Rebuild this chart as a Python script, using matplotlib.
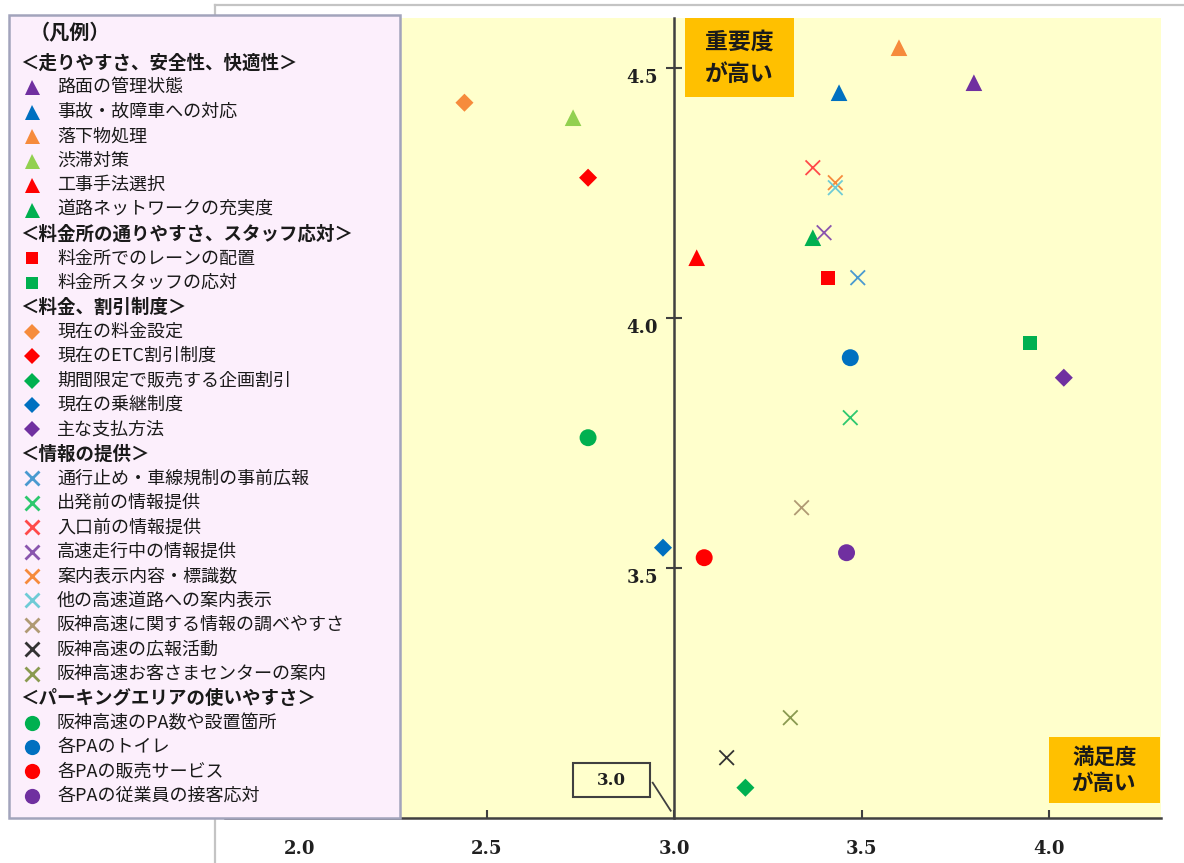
import matplotlib
matplotlib.use("Agg")
import matplotlib.pyplot as plt
from matplotlib.lines import Line2D
from matplotlib.patches import Rectangle
from matplotlib.transforms import ScaledTranslation

# ---------------------------------------------------------------
# Satisfaction (x) / importance (y) scores by survey item
# ---------------------------------------------------------------
group_titles = [
    "＜走りやすさ、安全性、快適性＞",
    "＜料金所の通りやすさ、スタッフ応対＞",
    "＜料金、割引制度＞",
    "＜情報の提供＞",
    "＜パーキングエリアの使いやすさ＞",
]

road_items = ["路面の管理状態", "事故・故障車への対応", "落下物処理",
              "渋滞対策", "工事手法選択", "道路ネットワークの充実度"]
road_satisfaction = [3.80, 3.44, 3.60, 2.73, 3.06, 3.37]
road_importance = [4.47, 4.45, 4.54, 4.40, 4.12, 4.16]

toll_items = ["料金所でのレーンの配置", "料金所スタッフの応対"]
toll_satisfaction = [3.41, 3.95]
toll_importance = [4.08, 3.95]

fare_items = ["現在の料金設定", "現在のETC割引制度", "期間限定で販売する企画割引",
              "現在の乗継制度", "主な支払方法"]
fare_satisfaction = [2.44, 2.77, 3.19, 2.97, 4.04]
fare_importance = [4.43, 4.28, 3.06, 3.54, 3.88]

info_items = ["通行止め・車線規制の事前広報", "出発前の情報提供", "入口前の情報提供",
              "高速走行中の情報提供", "案内表示内容・標識数", "他の高速道路への案内表示",
              "阪神高速に関する情報の調べやすさ", "阪神高速の広報活動",
              "阪神高速お客さまセンターの案内"]
info_satisfaction = [3.49, 3.47, 3.37, 3.40, 3.43, 3.43, 3.34, 3.14, 3.31]
info_importance = [4.08, 3.80, 4.30, 4.17, 4.27, 4.26, 3.62, 3.12, 3.20]

pa_items = ["阪神高速のPA数や設置箇所", "各PAのトイレ", "各PAの販売サービス",
            "各PAの従業員の接客応対"]
pa_satisfaction = [2.77, 3.47, 3.08, 3.46]
pa_importance = [3.76, 3.92, 3.52, 3.53]

x_ticks = [2.0, 2.5, 3.0, 3.5, 4.0]
y_ticks = [3.5, 4.0, 4.5]

# ---------------------------------------------------------------
# Styles
# ---------------------------------------------------------------
PURPLE, BLUE, ORANGE = "#7030A0", "#0070C0", "#F68B3C"
LGREEN, RED, GREEN = "#92D050", "#FF0000", "#00B050"

road_colors = [PURPLE, BLUE, ORANGE, LGREEN, RED, GREEN]
toll_colors = [RED, GREEN]
fare_colors = [ORANGE, RED, GREEN, BLUE, PURPLE]
info_colors = ["#4A9AD0", "#2DC86E", "#FF4A4A", "#8A55AE", ORANGE,
               "#6FCBD6", "#B09A74", "#333333", "#8A9A50"]
pa_colors = [GREEN, BLUE, RED, PURPLE]

groups = [
    (road_items, road_satisfaction, road_importance, road_colors, "^", 12.0),
    (toll_items, toll_satisfaction, toll_importance, toll_colors, "s", 10.0),
    (fare_items, fare_satisfaction, fare_importance, fare_colors, "D", 9.2),
    (info_items, info_satisfaction, info_importance, info_colors, "x", 10.5),
    (pa_items, pa_satisfaction, pa_importance, pa_colors, "o", 12.2),
]

JP = ["Noto Sans CJK JP", "DejaVu Sans"]
NUM = "DejaVu Serif"
AXIS_COLOR = "#404040"

W, H = 1184, 863
fig = plt.figure(figsize=(W / 100, H / 100), dpi=100)
fig.patch.set_facecolor("white")


def fx(px):
    return px / W


def fy(py):
    return 1 - py / H


# chart-area frame (top and left edges)
fig.add_artist(Line2D([fx(215), fx(215)], [fy(5), fy(H + 5)], color="#C4C4C4",
                      lw=1.6, transform=fig.transFigure, zorder=0.5))
fig.add_artist(Line2D([fx(215), fx(W + 5)], [fy(5), fy(5)], color="#C4C4C4",
                      lw=1.6, transform=fig.transFigure, zorder=0.5))

# ---------------------------------------------------------------
# Plot area
# ---------------------------------------------------------------
x_min, x_max, y_min, y_max = 1.8, 4.3, 3.0, 4.6
left_px, right_px, top_px, bottom_px = 224.7, 1161.2, 17.7, 817.7
ax = fig.add_axes([fx(left_px), fy(bottom_px),
                   (right_px - left_px) / W, (bottom_px - top_px) / H])
ax.set_xlim(x_min, x_max)
ax.set_ylim(y_min, y_max)
ax.set_facecolor("#FFFFCC")

for side in ("top", "right"):
    ax.spines[side].set_visible(False)
ax.spines["left"].set_position(("data", 3.0))
for side in ("left", "bottom"):
    ax.spines[side].set_color(AXIS_COLOR)
    ax.spines[side].set_linewidth(1.8)

ax.set_xticks(x_ticks)
ax.set_xticklabels([f"{v:.1f}" for v in x_ticks])
ax.set_yticks(y_ticks)
ax.set_yticklabels([f"{v:.1f}" for v in y_ticks])
ax.tick_params(axis="x", direction="in", length=6, width=1.5, color=AXIS_COLOR,
               pad=16, labelsize=13)
ax.tick_params(axis="y", direction="inout", length=11, width=1.5, color=AXIS_COLOR,
               pad=6, labelsize=13)
for lab in ax.get_xticklabels() + ax.get_yticklabels():
    lab.set_fontfamily(NUM)
    lab.set_fontweight("bold")
    lab.set_color("#202020")
shift = ScaledTranslation(0, -8 / 100, fig.dpi_scale_trans)
for lab in ax.get_yticklabels():
    lab.set_transform(lab.get_transform() + shift)

for items, xs, ys, colors, marker, ms in groups:
    if marker == "x":
        ax.scatter(xs, ys, s=ms ** 2, c=colors, marker=marker, linewidths=1.3,
                   zorder=3)
    else:
        ax.scatter(xs, ys, s=ms ** 2, c=colors, marker=marker,
                   edgecolors="none", zorder=3)

# quadrant captions
for (x0, y0, x1, y1), lines, fs in [
    ((684.5, 18.3, 794.3, 96.7), ("重要度", "が高い"), 16.5),
    ((1049, 737, 1160, 803), ("満足度", "が高い"), 15.5),
]:
    fig.add_artist(Rectangle((fx(x0), fy(y1)), (x1 - x0) / W, (y1 - y0) / H,
                             transform=fig.transFigure, facecolor="#FFC000",
                             edgecolor="none", zorder=2))
    cx = (x0 + x1) / 2
    h = y1 - y0
    for i, t in enumerate(lines):
        ty = y0 + h * (0.31 + 0.40 * i)
        fig.text(fx(cx), fy(ty), t, ha="center", va="center", fontsize=fs,
                 fontweight="bold", family=JP, color="#1A1A1A", zorder=3)

# origin callout
fig.add_artist(Rectangle((fx(573), fy(797)), 77 / W, 34 / H,
                         transform=fig.transFigure, facecolor="#FFFFCC",
                         edgecolor=AXIS_COLOR, lw=1.5, zorder=2))
fig.text(fx(611.5), fy(780), "3.0", ha="center", va="center", fontsize=12,
         fontweight="bold", family=NUM, color="#202020", zorder=3)
fig.add_artist(Line2D([fx(652.7), fx(670.7)], [fy(782.7), fy(810.7)],
                      color=AXIS_COLOR, lw=1.3, transform=fig.transFigure,
                      zorder=2))

# ---------------------------------------------------------------
# Legend panel
# ---------------------------------------------------------------
fig.add_artist(Rectangle((fx(8.5), fy(818)), (400 - 8.5) / W, (818 - 15) / H,
                         transform=fig.transFigure, facecolor="#FCEFFC",
                         edgecolor="#A2A4BC", lw=1.8, zorder=4))
fig.text(fx(30), fy(33), "（凡例）", ha="left", va="center", fontsize=14.5,
         fontweight="bold", family=JP, color="#1A1A1A", zorder=5)

row_y = 63.0
row_step = 24.43
for title, (items, xs, ys, colors, marker, ms) in zip(group_titles, groups):
    fig.text(fx(20), fy(row_y), title, ha="left", va="center", fontsize=13.3,
             fontweight="bold", family=JP, color="#1A1A1A", zorder=5)
    row_y += row_step
    for item, col in zip(items, colors):
        if marker == "x":
            mk = dict(marker="x", markersize=ms * 0.95, markeredgewidth=2.0,
                      color=col)
        else:
            mk = dict(marker=marker, markersize=ms * 0.9, color=col,
                      markeredgewidth=0)
        fig.add_artist(Line2D([fx(31.7)], [fy(row_y)], linestyle="none",
                              transform=fig.transFigure, zorder=5, **mk))
        fig.text(fx(57), fy(row_y), item, ha="left", va="center", fontsize=13,
                 family=JP, color="#1A1A1A", zorder=5)
        row_y += row_step

fig.savefig("out.png", dpi=100)
